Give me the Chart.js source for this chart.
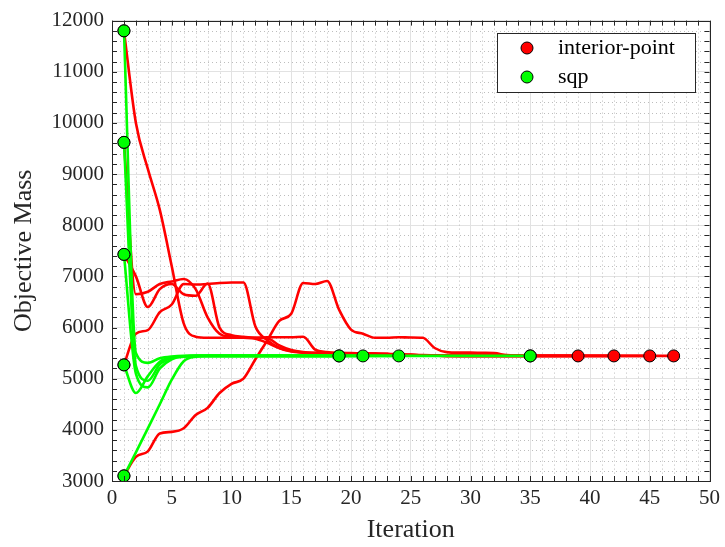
<!DOCTYPE html>
<html>
<head>
<meta charset="utf-8">
<script src="https://cdn.jsdelivr.net/npm/chart.js@4/dist/chart.umd.min.js"></script>
<style>
  html, body { margin: 0; padding: 0; background: #fff; }
</style>
</head>
<body>
<canvas id="chart" width="725" height="547"></canvas>
<script>
// Objective mass per iteration (iteration 1, 2, 3, ...) for each run
const ipRun1 = [11800, 10000, 9100, 8300, 7200, 6080, 5820, 5800, 5800, 5800,
  5800, 5800, 5810, 5810, 5810, 5820, 5570, 5520, 5505, 5500,
  5495, 5490, 5485, 5480, 5470, 5460, 5455, 5450, 5445, 5445,
  5445, 5445, 5445, 5445, 5445, 5445, 5445, 5445, 5445];
const ipRun2 = [9620, 6650, 6700, 6850, 6900, 6950, 6750, 6200, 5880, 5820,
  5800, 5780, 5700, 5600, 5540, 5510, 5500, 5500, 5495, 5490,
  5490, 5485, 5480, 5470, 5460, 5455, 5450, 5445, 5445, 5445,
  5445, 5445, 5445, 5445, 5445, 5445, 5445, 5445, 5445, 5445,
  5445, 5445];
const ipRun3 = [7430, 7000, 6400, 6750, 6850, 6650, 6620, 6860, 6000, 5850,
  5820, 5800, 5790, 5650, 5560, 5520, 5505, 5500, 5495, 5490,
  5490, 5485, 5480, 5470, 5460, 5455, 5450, 5445, 5445, 5445,
  5445, 5445, 5445, 5445, 5445, 5445, 5445, 5445, 5445, 5445,
  5445, 5445, 5445, 5445, 5445];
const ipRun4 = [5270, 5880, 5950, 6300, 6450, 6850, 6840, 6850, 6870, 6880,
  6880, 6020, 5750, 5600, 5530, 5510, 5500, 5495, 5490, 5490,
  5485, 5480, 5475, 5470, 5460, 5455, 5450, 5445, 5445, 5445,
  5445, 5445, 5445, 5445, 5445, 5445, 5445, 5445, 5445, 5445,
  5445, 5445, 5445, 5445, 5445, 5445, 5445];
const ipRun5 = [3100, 3470, 3580, 3930, 3960, 4030, 4290, 4430, 4720, 4900,
  5000, 5380, 5750, 6130, 6270, 6870, 6850, 6910, 6350, 5960,
  5880, 5800, 5800, 5810, 5805, 5800, 5600, 5520, 5510, 5510,
  5505, 5500, 5460, 5448, 5445];

const sqpRun1 = [11800, 5500, 5310, 5400, 5435, 5445, 5445, 5445, 5445, 5445,
  5445, 5445, 5445, 5445, 5445, 5445, 5445, 5445, 5445, 5445,
  5445, 5445, 5445, 5445];
const sqpRun2 = [9620, 5250, 4960, 5280, 5410, 5440, 5445, 5445, 5445, 5445,
  5445, 5445, 5445, 5445, 5445, 5445, 5445, 5445, 5445, 5445,
  5445];
const sqpRun3 = [7430, 5100, 4830, 5200, 5380, 5430, 5445, 5445, 5445, 5445,
  5445, 5445, 5445, 5445, 5445, 5445, 5445, 5445, 5445];
const sqpRun4 = [5270, 4720, 5050, 5330, 5420, 5440, 5445, 5445, 5445, 5445,
  5445, 5445, 5445, 5445, 5445, 5445, 5445, 5445, 5445, 5445,
  5445, 5445, 5445, 5445, 5445, 5445, 5445, 5445, 5445, 5445,
  5445, 5445, 5445, 5445, 5445];
const sqpRun5 = [3100, 3560, 4030, 4500, 4980, 5340, 5430, 5445, 5445, 5445,
  5445, 5445, 5445, 5445, 5445, 5445, 5445, 5445, 5445];

const ipRuns = [ipRun1, ipRun2, ipRun3, ipRun4, ipRun5];
const sqpRuns = [sqpRun1, sqpRun2, sqpRun3, sqpRun4, sqpRun5];
const seriesNames = ['interior-point', 'sqp'];

const RED = '#ff0000';
const GREEN = '#00ff00';
const AXIS = '#262626';
const FONT = '"Liberation Serif", "DejaVu Serif", serif';

// one line dataset per run
function lineSets(runs, color, order) {
    return runs.map((run, k) => ({
        label: 'run' + k,
        data: run.map((v, i) => ({ x: i + 1, y: v })),
        borderColor: color,
        borderWidth: 2.6,
        pointRadius: 0,
        cubicInterpolationMode: 'monotone',
        fill: false,
        order: order
    }));
}

// start and end point of each run
function markerSet(runs, name, color, order) {
    const pts = [];
    runs.forEach(run => {
        pts.push({ x: 1, y: run[0] });
        pts.push({ x: run.length, y: run[run.length - 1] });
    });
    return {
        label: name,
        data: pts,
        showLine: false,
        pointRadius: 6,
        pointHoverRadius: 6,
        pointBackgroundColor: color,
        pointBorderColor: '#000',
        pointBorderWidth: 1,
        order: order
    };
}

// minor grid, box with inward ticks, legend
const matlabAxes = {
    id: 'matlabAxes',
    beforeDatasetsDraw(chart) {
        const { ctx, chartArea: a, scales: { x, y } } = chart;
        ctx.save();
        ctx.strokeStyle = '#bdbdbd';
        ctx.lineWidth = 1;
        ctx.setLineDash([1, 3]);
        for (let v = 1; v < 50; v++) {
            if (v % 5 === 0) continue;
            const px = Math.round(x.getPixelForValue(v)) + 0.5;
            ctx.beginPath(); ctx.moveTo(px, a.top); ctx.lineTo(px, a.bottom); ctx.stroke();
        }
        for (let v = 3200; v < 12000; v += 200) {
            if (v % 1000 === 0) continue;
            const py = Math.round(y.getPixelForValue(v)) + 0.5;
            ctx.beginPath(); ctx.moveTo(a.left, py); ctx.lineTo(a.right, py); ctx.stroke();
        }
        ctx.restore();
    },
    afterDatasetsDraw(chart) {
        const { ctx, chartArea: a, scales: { x, y } } = chart;
        ctx.save();
        ctx.strokeStyle = AXIS;
        ctx.lineWidth = 1;
        const t = 5;
        ctx.beginPath();
        for (let v = 0; v <= 50; v++) {
            const px = Math.round(x.getPixelForValue(v)) + 0.5;
            ctx.moveTo(px, a.bottom); ctx.lineTo(px, a.bottom - t);
            ctx.moveTo(px, a.top); ctx.lineTo(px, a.top + t);
        }
        for (let v = 3000; v <= 12000; v += 200) {
            const py = Math.round(y.getPixelForValue(v)) + 0.5;
            ctx.moveTo(a.left, py); ctx.lineTo(a.left + t, py);
            ctx.moveTo(a.right, py); ctx.lineTo(a.right - t, py);
        }
        ctx.stroke();
        ctx.strokeRect(Math.round(a.left) + 0.5, Math.round(a.top) + 0.5,
            Math.round(a.right - a.left), Math.round(a.bottom - a.top));
        ctx.restore();
    },
    afterDraw(chart) {
        const ctx = chart.ctx;
        const bx = 497, by = 33, bw = 198, bh = 59;
        ctx.save();
        ctx.fillStyle = '#fff';
        ctx.fillRect(bx, by, bw, bh);
        ctx.strokeStyle = AXIS;
        ctx.lineWidth = 1;
        ctx.strokeRect(bx + 0.5, by + 0.5, bw, bh);
        const entries = [[seriesNames[0], RED], [seriesNames[1], GREEN]];
        entries.forEach((e, i) => {
            const cy = by + 15 + i * 29;
            ctx.beginPath();
            ctx.arc(bx + 30, cy, 6, 0, Math.PI * 2);
            ctx.fillStyle = e[1];
            ctx.fill();
            ctx.strokeStyle = '#000';
            ctx.stroke();
            ctx.fillStyle = '#000';
            ctx.font = '22px ' + FONT;
            ctx.textBaseline = 'middle';
            ctx.fillText(e[0], bx + 61, cy);
        });
        ctx.restore();
    }
};

new Chart(document.getElementById('chart'), {
    type: 'line',
    data: {
        datasets: [
            ...lineSets(ipRuns, RED, 4),
            ...lineSets(sqpRuns, GREEN, 3),
            markerSet(ipRuns, seriesNames[0], RED, 2),
            markerSet(sqpRuns, seriesNames[1], GREEN, 1)
        ]
    },
    options: {
        responsive: false,
        animation: false,
        layout: { padding: { top: 18, right: 15, left: 0, bottom: 0 } },
        plugins: {
            legend: { display: false },
            tooltip: { enabled: false }
        },
        scales: {
            x: {
                type: 'linear',
                min: 0,
                max: 50,
                afterFit: s => { s.height = 66; },
                ticks: {
                    stepSize: 5,
                    color: AXIS,
                    padding: 5,
                    maxRotation: 0,
                    font: { family: FONT, size: 21 },
                    callback: v => String(v)
                },
                grid: { color: '#e2e2e2', drawTicks: false },
                border: { display: false },
                title: {
                    display: true,
                    text: 'Iteration',
                    color: AXIS,
                    font: { family: FONT, size: 26 },
                    padding: { top: 0, bottom: 1 }
                }
            },
            y: {
                min: 3000,
                max: 12000,
                afterFit: s => { s.width = 112; },
                ticks: {
                    stepSize: 1000,
                    color: AXIS,
                    padding: 8,
                    font: { family: FONT, size: 21 },
                    callback: v => String(v)
                },
                grid: { color: '#e2e2e2', drawTicks: false },
                border: { display: false },
                title: {
                    display: true,
                    text: 'Objective Mass',
                    color: AXIS,
                    font: { family: FONT, size: 26 },
                    padding: { top: 9, bottom: 0 }
                }
            }
        }
    },
    plugins: [matlabAxes]
});
</script>
</body>
</html>
